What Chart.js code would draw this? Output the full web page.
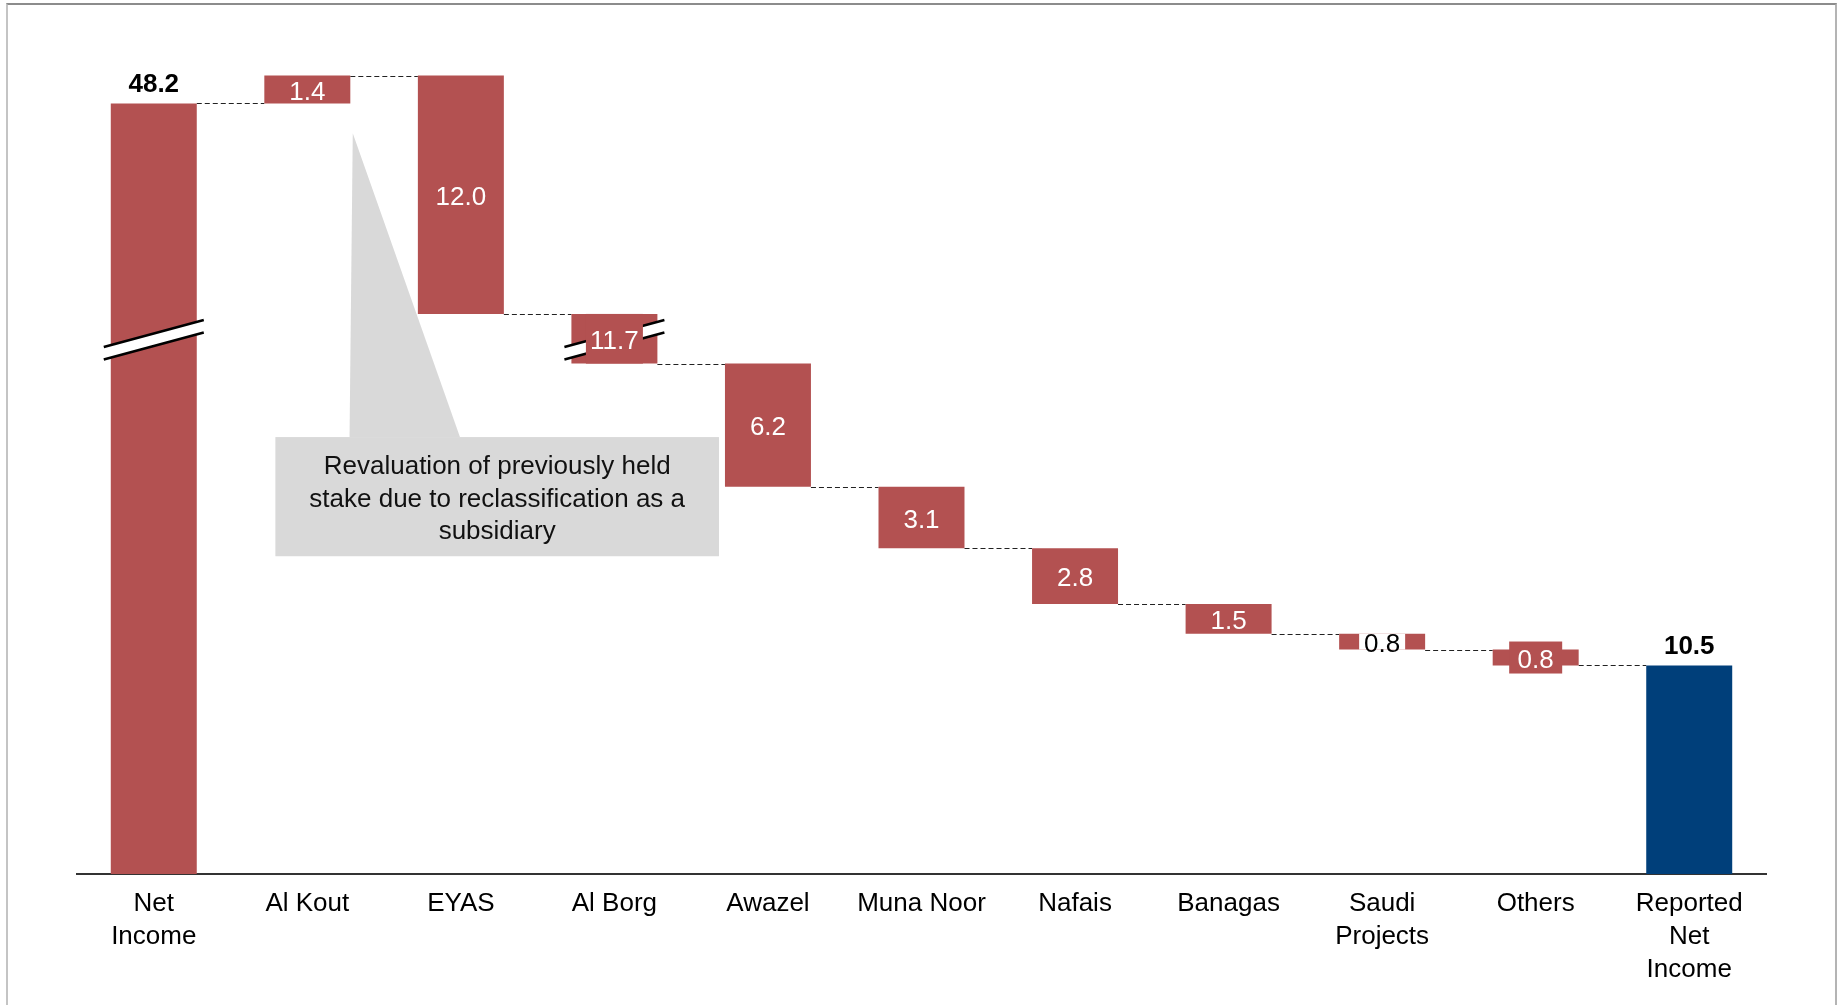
<!DOCTYPE html>
<html>
<head>
<meta charset="utf-8">
<script src="https://cdn.jsdelivr.net/npm/chart.js@4.4.1/dist/chart.umd.min.js"></script>
<style>
  html, body { margin: 0; padding: 0; background: #fff; }
  #wrap { position: relative; width: 1837px; height: 1005px; overflow: hidden; }
  #frame {
    position: absolute; left: 6px; top: 3px; width: 1827px; height: 1010px;
    border-top: 2px solid #8c8c8c; border-left: 2px solid #c4c4c4; border-right: 2px solid #b4b4b4;
    pointer-events: none;
  }
</style>
</head>
<body>
<div id="wrap">
  <canvas id="myChart"></canvas>
  <div id="frame"></div>
</div>
<script>
// waterfall: net income bridge
const categories = [
  ["Net", "Income"], "Al Kout", "EYAS", "Al Borg", "Awazel", "Muna Noor",
  "Nafais", "Banagas", ["Saudi", "Projects"], "Others", ["Reported", "Net", "Income"]
];
// value shown on each bar
const stepValues = [48.2, 1.4, -12.0, -11.7, -6.2, -3.1, -2.8, -1.5, -0.8, -0.8, 10.5];
// running total after each step
const runningTotals = [48.2, 49.6, 37.6, 25.7, 19.5, 16.4, 13.6, 12.1, 11.3, 10.5, 10.5];
const isTotal = [true, false, false, false, false, false, false, false, false, false, true];
const calloutLines = [
  "Revaluation of previously held",
  "stake due to reclassification as a",
  "subsidiary"
];

// broken axis: everything above BREAK_AT is pulled down by BREAK_GAP
const BREAK_AT = 26.9;
const BREAK_GAP = 9.4;
const squeeze = (v) => (v > BREAK_AT ? v - BREAK_GAP : v);

const RED = "#B35151";
const NAVY = "#003F7A";
const FONT = "'Liberation Sans', Arial, sans-serif";

const barData = categories.map((c, i) => {
  const start = isTotal[i] ? 0 : runningTotals[i - 1];
  return [squeeze(start), squeeze(runningTotals[i])];
});
const barColors = isTotal.map((t, i) => (i === categories.length - 1 ? NAVY : RED));

function drawBreak(ctx, cx, cy) {
  const half = 50, rise = 13.5, off = 6.25;
  ctx.save();
  ctx.fillStyle = "#fff";
  ctx.beginPath();
  ctx.moveTo(cx - half, cy - off + rise);
  ctx.lineTo(cx + half, cy - off - rise);
  ctx.lineTo(cx + half, cy + off - rise);
  ctx.lineTo(cx - half, cy + off + rise);
  ctx.closePath();
  ctx.fill();
  ctx.strokeStyle = "#000";
  ctx.lineWidth = 2.5;
  ctx.beginPath();
  ctx.moveTo(cx - half, cy - off + rise);
  ctx.lineTo(cx + half, cy - off - rise);
  ctx.moveTo(cx - half, cy + off + rise);
  ctx.lineTo(cx + half, cy + off - rise);
  ctx.stroke();
  ctx.restore();
}

const waterfallExtras = {
  id: "waterfallExtras",
  beforeDatasetsDraw(chart, args, opts) {
    const { ctx, scales: { x, y } } = chart;
    // callout box with pointer
    const c = opts.callout;
    ctx.save();
    ctx.fillStyle = "#D9D9D9";
    ctx.beginPath();
    ctx.moveTo(x.getPixelForValue(c.baseX0), y.getPixelForValue(c.top));
    ctx.lineTo(x.getPixelForValue(c.tipX), y.getPixelForValue(c.tipY));
    ctx.lineTo(x.getPixelForValue(c.baseX1), y.getPixelForValue(c.top));
    ctx.closePath();
    ctx.fill();
    const bx0 = x.getPixelForValue(c.x0), bx1 = x.getPixelForValue(c.x1);
    const by0 = y.getPixelForValue(c.top), by1 = y.getPixelForValue(c.bottom);
    ctx.fillRect(bx0, by0, bx1 - bx0, by1 - by0);
    ctx.fillStyle = "#111";
    ctx.font = "26px " + FONT;
    ctx.textAlign = "center";
    ctx.textBaseline = "middle";
    const lh = 32.5, midY = (by0 + by1) / 2 + 3;
    calloutLines.forEach((t, k) => {
      ctx.fillText(t, (bx0 + bx1) / 2, midY + (k - (calloutLines.length - 1) / 2) * lh);
    });
    // dashed connectors
    const meta = chart.getDatasetMeta(0);
    ctx.strokeStyle = "#222";
    ctx.lineWidth = 1.2;
    ctx.setLineDash([5, 3]);
    for (let i = 0; i < meta.data.length - 1; i++) {
      const a = meta.data[i], b = meta.data[i + 1];
      const ly = Math.round(y.getPixelForValue(squeeze(runningTotals[i]))) + 0.5;
      ctx.beginPath();
      ctx.moveTo(a.x + a.width / 2, ly);
      ctx.lineTo(b.x - b.width / 2, ly);
      ctx.stroke();
    }
    ctx.restore();
  },
  afterDatasetsDraw(chart, args, opts) {
    const { ctx, scales: { y } } = chart;
    const meta = chart.getDatasetMeta(0);
    const breakY = y.getPixelForValue(BREAK_AT);
    opts.breakBars.forEach((i) => drawBreak(ctx, meta.data[i].x, breakY));

    ctx.save();
    ctx.textAlign = "center";
    meta.data.forEach((el, i) => {
      const txt = Math.abs(stepValues[i]).toFixed(1);
      const top = Math.min(el.y, el.base), bot = Math.max(el.y, el.base);
      const cy = (top + bot) / 2;
      if (isTotal[i]) {
        ctx.font = "bold 26px " + FONT;
        ctx.fillStyle = "#000";
        ctx.textBaseline = "alphabetic";
        ctx.fillText(txt, el.x, top - 11);
        return;
      }
      ctx.font = "26px " + FONT;
      ctx.textBaseline = "middle";
      const box = opts.boxed[i];
      if (box) {
        ctx.fillStyle = box.fill;
        const h = box.h || (bot - top);
        ctx.fillRect(el.x - box.w / 2, cy - h / 2, box.w, h);
        ctx.fillStyle = box.text;
      } else {
        ctx.fillStyle = "#fff";
      }
      ctx.fillText(txt, el.x, cy + 3);
    });
    ctx.restore();
  }
};

const ctx = document.getElementById("myChart").getContext("2d");
new Chart(ctx, {
  type: "bar",
  data: {
    labels: categories,
    datasets: [{
      data: barData,
      backgroundColor: barColors,
      borderWidth: 0,
      barPercentage: 0.56,
      categoryPercentage: 1,
    }],
  },
  options: {
    responsive: true,
    maintainAspectRatio: false,
    devicePixelRatio: 1,
    animation: false,
    layout: { padding: { left: 77, right: 71, top: 20, bottom: 0 } },
    plugins: {
      legend: { display: false },
      tooltip: { enabled: false },
      waterfallExtras: {
        breakBars: [0, 3],
        boxed: {
          3: { fill: RED, text: "#fff", w: 57 },
          8: { fill: "#fff", text: "#000", w: 46 },
          9: { fill: RED, text: "#fff", w: 53, h: 32 },
        },
        callout: { x0: 0.792, x1: 3.681, top: 22.0, bottom: 16.0, baseX0: 1.275, baseX1: 1.994, tipX: 1.296, tipY: 37.3 },
      },
    },
    scales: {
      x: {
        grid: { display: false, drawTicks: false },
        border: { display: true, color: "#333", width: 2 },
        ticks: { color: "#000", font: { family: FONT, size: 26, lineHeight: 1.27 }, padding: 13, maxRotation: 0, autoSkip: false },
        afterFit: (s) => { s.height = 131; },
      },
      y: { display: false, min: 0, max: 43 },
    },
  },
  plugins: [waterfallExtras],
});
</script>
</body>
</html>
